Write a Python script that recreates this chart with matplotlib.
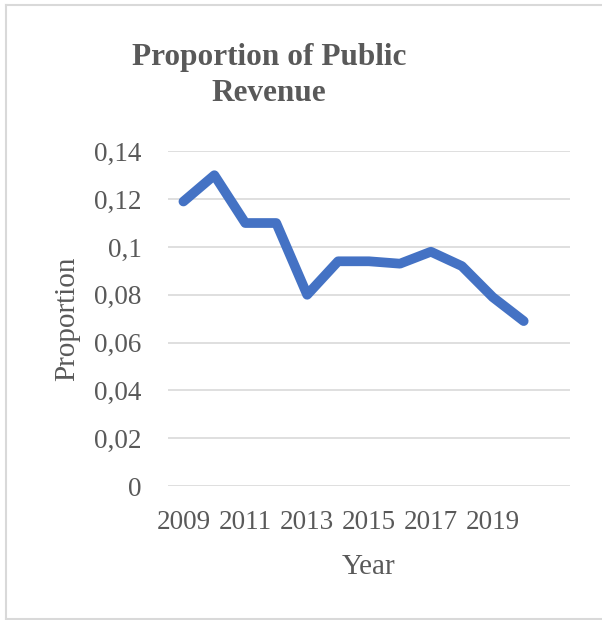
import matplotlib
matplotlib.use('Agg')
import matplotlib.pyplot as plt
from matplotlib.lines import Line2D

years = [2009, 2010, 2011, 2012, 2013, 2014, 2015, 2016, 2017, 2018, 2019, 2020]
proportion = [0.119, 0.130, 0.110, 0.110, 0.080, 0.094, 0.094, 0.093, 0.098, 0.092, 0.079, 0.069]
year_ticks = [2009, 2011, 2013, 2015, 2017, 2019]
y_ticks = [0, 0.02, 0.04, 0.06, 0.08, 0.1, 0.12, 0.14]
y_tick_labels = ["0", "0,02", "0,04", "0,06", "0,08", "0,1", "0,12", "0,14"]

plt.rcParams['font.family'] = ['Liberation Serif', 'DejaVu Serif']
grey = '#595959'

fig = plt.figure(figsize=(6.02, 6.2), dpi=100)
ax = fig.add_axes([0.279, 0.216, 0.668, 0.540])

ax.plot(years, proportion, color='#4472C4', linewidth=7, solid_joinstyle='round',
        solid_capstyle='round', zorder=3)

ax.set_xlim(2008.5, 2021.5)
ax.set_ylim(0, 0.14)
ax.set_xticks(year_ticks)
ax.set_xticklabels([str(y) for y in year_ticks])
ax.set_yticks(y_ticks)
ax.set_yticklabels(y_tick_labels)
ax.yaxis.grid(True, color='#D9D9D9', linewidth=1.2)
ax.set_axisbelow(True)
for s in ax.spines.values():
    s.set_visible(False)
ax.tick_params(axis='both', length=0, labelsize=19.5, colors=grey)
ax.tick_params(axis='y', pad=19)
ax.tick_params(axis='x', pad=17)

ax.set_xlabel("Year", fontsize=21, color=grey, labelpad=14)
ax.set_ylabel("Proportion", fontsize=21, color=grey, labelpad=10)
fig.text(0.447, 0.878, "Proportion of Public\nRevenue", ha='center', va='center',
         fontsize=22.5, fontweight='bold', color=grey, linespacing=1.3)

# chart frame
for xs, ys in [([0.01, 0.01], [0.0, 0.992]), ([0.01, 1.0], [0.992, 0.992]),
               ([0.01, 1.0], [0.002, 0.002])]:
    fig.add_artist(Line2D(xs, ys, transform=fig.transFigure, color='#D9D9D9', linewidth=1.5))

fig.savefig("out.png", dpi=100)
